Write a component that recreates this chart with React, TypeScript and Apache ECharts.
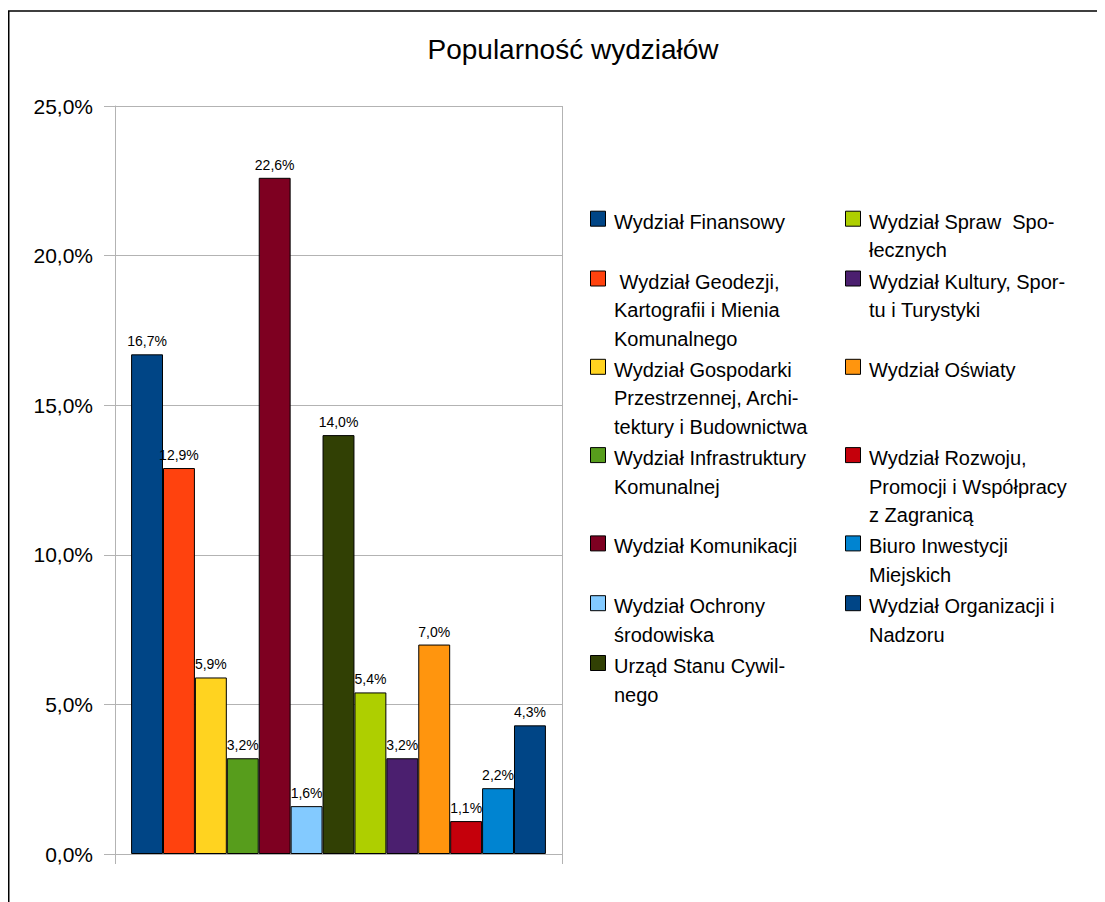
import React, { useEffect, useRef } from "react";
import * as echarts from "echarts";

// Share of applicants per department, in percent
const departments = [
  "Wydział Finansowy",
  "Wydział Geodezji, Kartografii i Mienia Komunalnego",
  "Wydział Gospodarki Przestrzennej, Architektury i Budownictwa",
  "Wydział Infrastruktury Komunalnej",
  "Wydział Komunikacji",
  "Wydział Ochrony środowiska",
  "Urząd Stanu Cywilnego",
  "Wydział Spraw Społecznych",
  "Wydział Kultury, Sportu i Turystyki",
  "Wydział Oświaty",
  "Wydział Rozwoju, Promocji i Współpracy z Zagranicą",
  "Biuro Inwestycji Miejskich",
  "Wydział Organizacji i Nadzoru",
];

const shares = [16.7, 12.9, 5.9, 3.2, 22.6, 1.6, 14.0, 5.4, 3.2, 7.0, 1.1, 2.2, 4.3];

// Legend entries as they wrap in the two legend columns
const legendLines = [
  ["Wydział Finansowy"],
  [" Wydział Geodezji,", "Kartografii i Mienia", "Komunalnego"],
  ["Wydział Gospodarki", "Przestrzennej, Archi-", "tektury i Budownictwa"],
  ["Wydział Infrastruktury", "Komunalnej"],
  ["Wydział Komunikacji"],
  ["Wydział Ochrony", "środowiska"],
  ["Urząd Stanu Cywil-", "nego"],
  ["Wydział Spraw  Spo-", "łecznych"],
  ["Wydział Kultury, Spor-", "tu i Turystyki"],
  ["Wydział Oświaty"],
  ["Wydział Rozwoju,", "Promocji i Współpracy", "z Zagranicą"],
  ["Biuro Inwestycji", "Miejskich"],
  ["Wydział Organizacji i", "Nadzoru"],
];

const palette = [
  "#004586", "#ff420e", "#ffd320", "#579d1c", "#7e0021", "#83caff", "#314004",
  "#aecf00", "#4b1f6f", "#ff950e", "#c5000b", "#0084d1", "#004586",
];

const yTicks = { min: 0, max: 25, step: 5 };

const FONT = "'Liberation Sans', Arial, sans-serif";
const pct = (v: number) => v.toFixed(1).replace(".", ",") + "%";

// Two-column legend, filled column by column; each row is as tall as its longest entry
function buildLegend() {
  const rowsPerCol = 7;
  const colIconX = [582, 837];
  const textGap = 24;
  const lineH = 28.5;
  const rowGap = 2.8;
  const icon = 15;
  const textDrop = 3.5;
  const startY = 202.7;
  const items: any[] = [];
  let y = startY;
  for (let r = 0; r < rowsPerCol; r++) {
    const idxs = [r, r + rowsPerCol].filter((i) => i < legendLines.length);
    let maxLines = 1;
    idxs.forEach((i, c) => {
      const lines = legendLines[i];
      maxLines = Math.max(maxLines, lines.length);
      const x = colIconX[c];
      items.push({
        type: "rect",
        silent: true,
        shape: { x: x + 0.5, y: y + 0.5, width: icon, height: icon },
        style: { fill: palette[i], stroke: "#000", lineWidth: 1 },
      });
      items.push({
        type: "text",
        silent: true,
        x: x + textGap,
        y: y + icon / 2 - lineH / 2 + textDrop,
        style: {
          text: lines.join("\n"),
          font: `20px ${FONT}`,
          fill: "#000",
          lineHeight: lineH,
          verticalAlign: "top",
        },
      });
    });
    y += maxLines * lineH + rowGap;
  }
  return items;
}

export default function App() {
  const ref = useRef<HTMLDivElement>(null);

  useEffect(() => {
    if (!ref.current) return;
    const chart = echarts.init(ref.current, null, { renderer: "svg" });
    const axisGray = "#b3b3b3";

    chart.setOption({
      animation: false,
      backgroundColor: "#fff",
      title: {
        text: "Popularność wydziałów",
        left: 560,
        top: 22,
        textAlign: "center",
        textStyle: { fontFamily: FONT, fontSize: 28, fontWeight: "normal", color: "#000" },
      },
      grid: { left: 107, top: 98, width: 447, height: 748 },
      xAxis: {
        type: "category",
        data: [""],
        axisLine: { show: true, lineStyle: { color: axisGray, width: 1 } },
        axisTick: { show: true, length: 10, lineStyle: { color: axisGray } },
        axisLabel: { show: false },
        splitLine: { show: true, lineStyle: { color: axisGray, width: 1 } },
      },
      yAxis: {
        type: "value",
        min: yTicks.min,
        max: yTicks.max,
        interval: yTicks.step,
        axisLine: { show: true, lineStyle: { color: axisGray, width: 1 } },
        axisTick: { show: true, length: 11, lineStyle: { color: axisGray } },
        axisLabel: {
          margin: 22,
          fontFamily: FONT,
          fontSize: 21,
          color: "#000",
          formatter: (v: number) => pct(v),
        },
        splitLine: { show: true, lineStyle: { color: axisGray, width: 1 } },
      },
      series: departments.map((name, i) => ({
        name,
        type: "bar",
        data: [shares[i]],
        barGap: "0%",
        barCategoryGap: "7.2%",
        itemStyle: { color: palette[i], borderColor: "#000", borderWidth: 1 },
        label: {
          show: true,
          position: "top",
          distance: 6,
          fontFamily: FONT,
          fontSize: 14,
          color: "#000",
          formatter: (p: any) => pct(p.value),
        },
      })),
      graphic: [
        {
          type: "rect",
          silent: true,
          shape: { x: 0.75, y: 3, width: 1400, height: 1400 },
          style: { fill: "none", stroke: "#000", lineWidth: 1.5 },
        },
        ...buildLegend(),
      ],
    });

    return () => chart.dispose();
  }, []);

  return <div ref={ref} style={{ width: 1097, height: 894 }} />;
}
